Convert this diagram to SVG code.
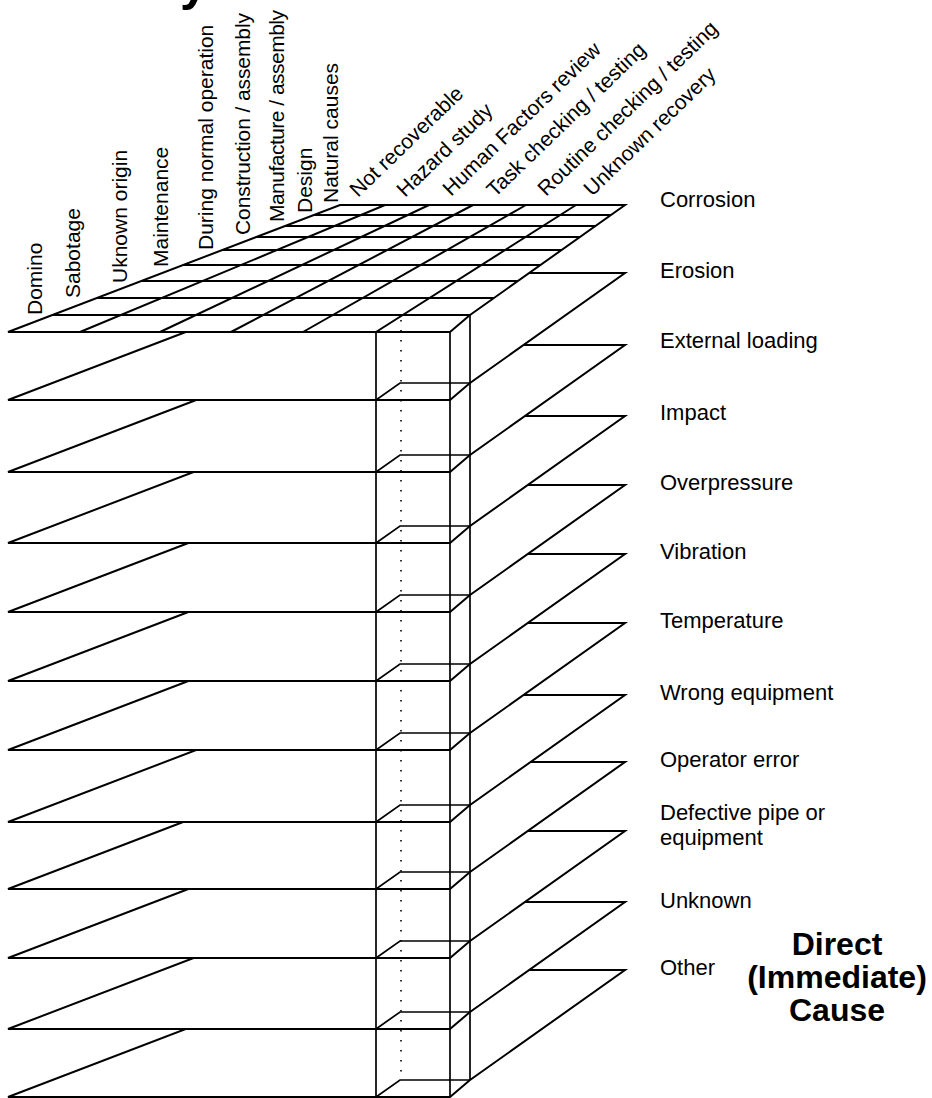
<svg xmlns="http://www.w3.org/2000/svg" width="932" height="1098" viewBox="0 0 932 1098">
<style>
.slab{fill:#fff;stroke:#000;stroke-width:2;stroke-linejoin:miter}
.ln{stroke:#000;stroke-width:2;fill:none}
.blk{stroke:#000;stroke-width:1.7;fill:none}
.dot{stroke:#000;stroke-width:1.6;stroke-dasharray:1.6 8.4;fill:none}
.lbl{font-family:"Liberation Sans",Arial,sans-serif;font-size:22px;fill:#000}
.rot{font-family:"Liberation Sans",Arial,sans-serif;font-size:21px;fill:#000}
.ttl{font-family:"Liberation Sans",Arial,sans-serif;font-size:32px;font-weight:bold;fill:#000;text-anchor:middle}
</style>
<rect width="932" height="1098" fill="#fff"/>
<text x="180" y="0" style="font-family:'Liberation Sans',Arial,sans-serif;font-size:50px;font-weight:bold">y</text>
<g id="slabs">
<g id="slab-other"><polygon class="slab" points="8,1097 340,970 625,970 470,1080 450,1097"/></g>
<g id="slab-unknown"><polygon class="slab" points="8,1029 340,902 625,902 470,1012 450,1029"/></g>
<g id="slab-defective"><polygon class="slab" points="8,958 340,831 625,831 470,941 450,958"/></g>
<g id="slab-operator-error"><polygon class="slab" points="8,889 340,762 625,762 470,872 450,889"/></g>
<g id="slab-wrong-equipment"><polygon class="slab" points="8,822 340,695 625,695 470,805 450,822"/></g>
<g id="slab-temperature"><polygon class="slab" points="8,750 340,623 625,623 470,733 450,750"/></g>
<g id="slab-vibration"><polygon class="slab" points="8,681 340,554 625,554 470,664 450,681"/></g>
<g id="slab-overpressure"><polygon class="slab" points="8,612 340,485 625,485 470,595 450,612"/></g>
<g id="slab-impact"><polygon class="slab" points="8,543 340,416 625,416 470,526 450,543"/></g>
<g id="slab-external-loading"><polygon class="slab" points="8,472 340,345 625,345 470,455 450,472"/></g>
<g id="slab-erosion"><polygon class="slab" points="8,400 340,273 625,273 470,383 450,400"/></g>
<g id="slab-corrosion"><polygon class="slab" points="8,332 340,205 625,205 470,315 450,332"/>
<g id="grid">
<line class="ln" x1="313.9" y1="215" x2="610.9" y2="215"/>
<line class="ln" x1="285.1" y1="226" x2="595.4" y2="226"/>
<line class="ln" x1="256.3" y1="237" x2="579.9" y2="237"/>
<line class="ln" x1="222.4" y1="250" x2="561.6" y2="250"/>
<line class="ln" x1="183.2" y1="265" x2="540.5" y2="265"/>
<line class="ln" x1="141.3" y1="281" x2="517.9" y2="281"/>
<line class="ln" x1="96.9" y1="298" x2="494" y2="298"/>
<line class="ln" x1="52.4" y1="315" x2="470" y2="315"/>
<line class="ln" x1="80" y1="332" x2="385" y2="205"/>
<line class="ln" x1="160" y1="332" x2="429" y2="205"/>
<line class="ln" x1="231" y1="332" x2="473" y2="205"/>
<line class="ln" x1="303" y1="332" x2="526" y2="205"/>
<line class="ln" x1="376" y1="332" x2="576" y2="205"/>
</g>
</g>
</g>
<g id="column-block">
<line class="blk" x1="376" y1="332" x2="376" y2="1097"/>
<line class="blk" x1="450" y1="332" x2="450" y2="1097"/>
<line class="blk" x1="470" y1="315" x2="470" y2="1080"/>
<line class="dot" x1="401" y1="320" x2="401" y2="1078"/>
<polyline class="blk" points="376,400 400,383 470,383"/>
<polyline class="blk" points="376,472 400,455 470,455"/>
<polyline class="blk" points="376,543 400,526 470,526"/>
<polyline class="blk" points="376,612 400,595 470,595"/>
<polyline class="blk" points="376,681 400,664 470,664"/>
<polyline class="blk" points="376,750 400,733 470,733"/>
<polyline class="blk" points="376,822 400,805 470,805"/>
<polyline class="blk" points="376,889 400,872 470,872"/>
<polyline class="blk" points="376,958 400,941 470,941"/>
<polyline class="blk" points="376,1029 400,1012 470,1012"/>
<polyline class="blk" points="376,1097 400,1080 470,1080"/>
</g>
<g id="origin-labels">
<text class="rot" transform="translate(42,315) rotate(-90)">Domino</text>
<text class="rot" transform="translate(80,298) rotate(-90)">Sabotage</text>
<text class="rot" transform="translate(127,283) rotate(-90)">Uknown origin</text>
<text class="rot" transform="translate(168,267) rotate(-90)">Maintenance</text>
<text class="rot" transform="translate(213,250) rotate(-90)">During normal operation</text>
<text class="rot" transform="translate(250,235) rotate(-90)" textLength="222">Construction / assembly</text>
<text class="rot" transform="translate(284,222) rotate(-90)" textLength="212">Manufacture / assembly</text>
<text class="rot" transform="translate(312,213) rotate(-90)">Design</text>
<text class="rot" transform="translate(338,203) rotate(-90)">Natural causes</text>
</g>
<g id="recovery-labels">
<text class="rot" transform="translate(358,198) rotate(-44)">Not recoverable</text>
<text class="rot" transform="translate(405,198) rotate(-44)">Hazard study</text>
<text class="rot" transform="translate(451,197) rotate(-44)">Human Factors review</text>
<text class="rot" transform="translate(495,198) rotate(-44)">Task checking / testing</text>
<text class="rot" transform="translate(546,197) rotate(-44)">Routine checking / testing</text>
<text class="rot" transform="translate(592,197) rotate(-44)">Unknown recovery</text>
</g>
<g id="cause-labels">
<text class="lbl" x="660" y="207">Corrosion</text>
<text class="lbl" x="660" y="278">Erosion</text>
<text class="lbl" x="660" y="348">External loading</text>
<text class="lbl" x="660" y="420">Impact</text>
<text class="lbl" x="660" y="490">Overpressure</text>
<text class="lbl" x="660" y="559">Vibration</text>
<text class="lbl" x="660" y="628">Temperature</text>
<text class="lbl" x="660" y="700">Wrong equipment</text>
<text class="lbl" x="660" y="767">Operator error</text>
<text class="lbl" x="660" y="820">Defective pipe or</text>
<text class="lbl" x="660" y="845">equipment</text>
<text class="lbl" x="660" y="908">Unknown</text>
<text class="lbl" x="660" y="975">Other</text>
</g>
<g id="axis-title">
<text class="ttl" x="837" y="955">Direct</text>
<text class="ttl" x="837" y="988">(Immediate)</text>
<text class="ttl" x="837" y="1021">Cause</text>
</g>
</svg>
